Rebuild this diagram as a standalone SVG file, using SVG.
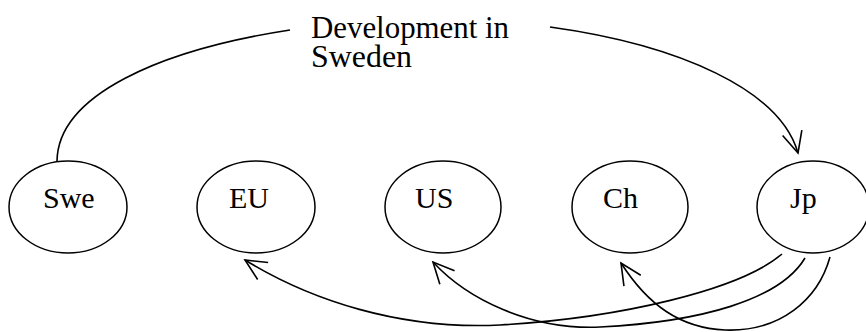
<svg xmlns="http://www.w3.org/2000/svg" width="866" height="332" viewBox="0 0 866 332">
<defs>
<style>
.node ellipse{fill:#fff;stroke:#000;stroke-width:1.5}
text{font-family:"Liberation Serif","Times New Roman",serif;font-size:30px;fill:#000}
.lbl{font-size:32px}
.conn path{fill:none;stroke:#000;stroke-width:1.6}
</style>
<marker id="arr" markerUnits="userSpaceOnUse" markerWidth="30" markerHeight="30" viewBox="-25 -15 30 30" refX="0" refY="0" orient="auto" overflow="visible">
<path d="M-21,-10 L0,0 L-21,10" fill="none" stroke="#000" stroke-width="1.6"/>
</marker>
</defs>
<rect width="866" height="332" fill="#fff"/>
<g id="label">
<text class="lbl"><tspan x="311" y="38" textLength="198" lengthAdjust="spacingAndGlyphs">Development in</tspan><tspan x="311" y="67" textLength="101" lengthAdjust="spacingAndGlyphs">Sweden</tspan></text>
</g>
<g id="swe" class="node"><ellipse cx="68" cy="207" rx="59" ry="46"/><text x="43" y="208">Swe</text></g>
<g id="eu" class="node"><ellipse cx="256" cy="207" rx="59" ry="46"/><text x="229" y="208">EU</text></g>
<g id="us" class="node"><ellipse cx="443" cy="207" rx="58" ry="46"/><text x="415" y="208">US</text></g>
<g id="ch" class="node"><ellipse cx="630" cy="207" rx="58" ry="46"/><text x="603" y="208">Ch</text></g>
<g id="jp" class="node"><ellipse cx="813" cy="207" rx="56" ry="46"/><text x="790" y="208">Jp</text></g>
<g id="connectors" class="conn">
<path d="M57,161 C58,95 160,50 290,30"/>
<path d="M550,27 C680,45 780,90 798,153" marker-end="url(#arr)"/>
<path d="M782,254 C740,290 620,318 500,325 C400,330 310,300 245,260" marker-end="url(#arr)"/>
<path d="M805,258 C780,300 700,322 600,327 C530,330 467,299 433,262" marker-end="url(#arr)"/>
<path d="M830,257 C818,300 780,332 725,330 C680,328 648,305 621,263" marker-end="url(#arr)"/>
</g>
</svg>
